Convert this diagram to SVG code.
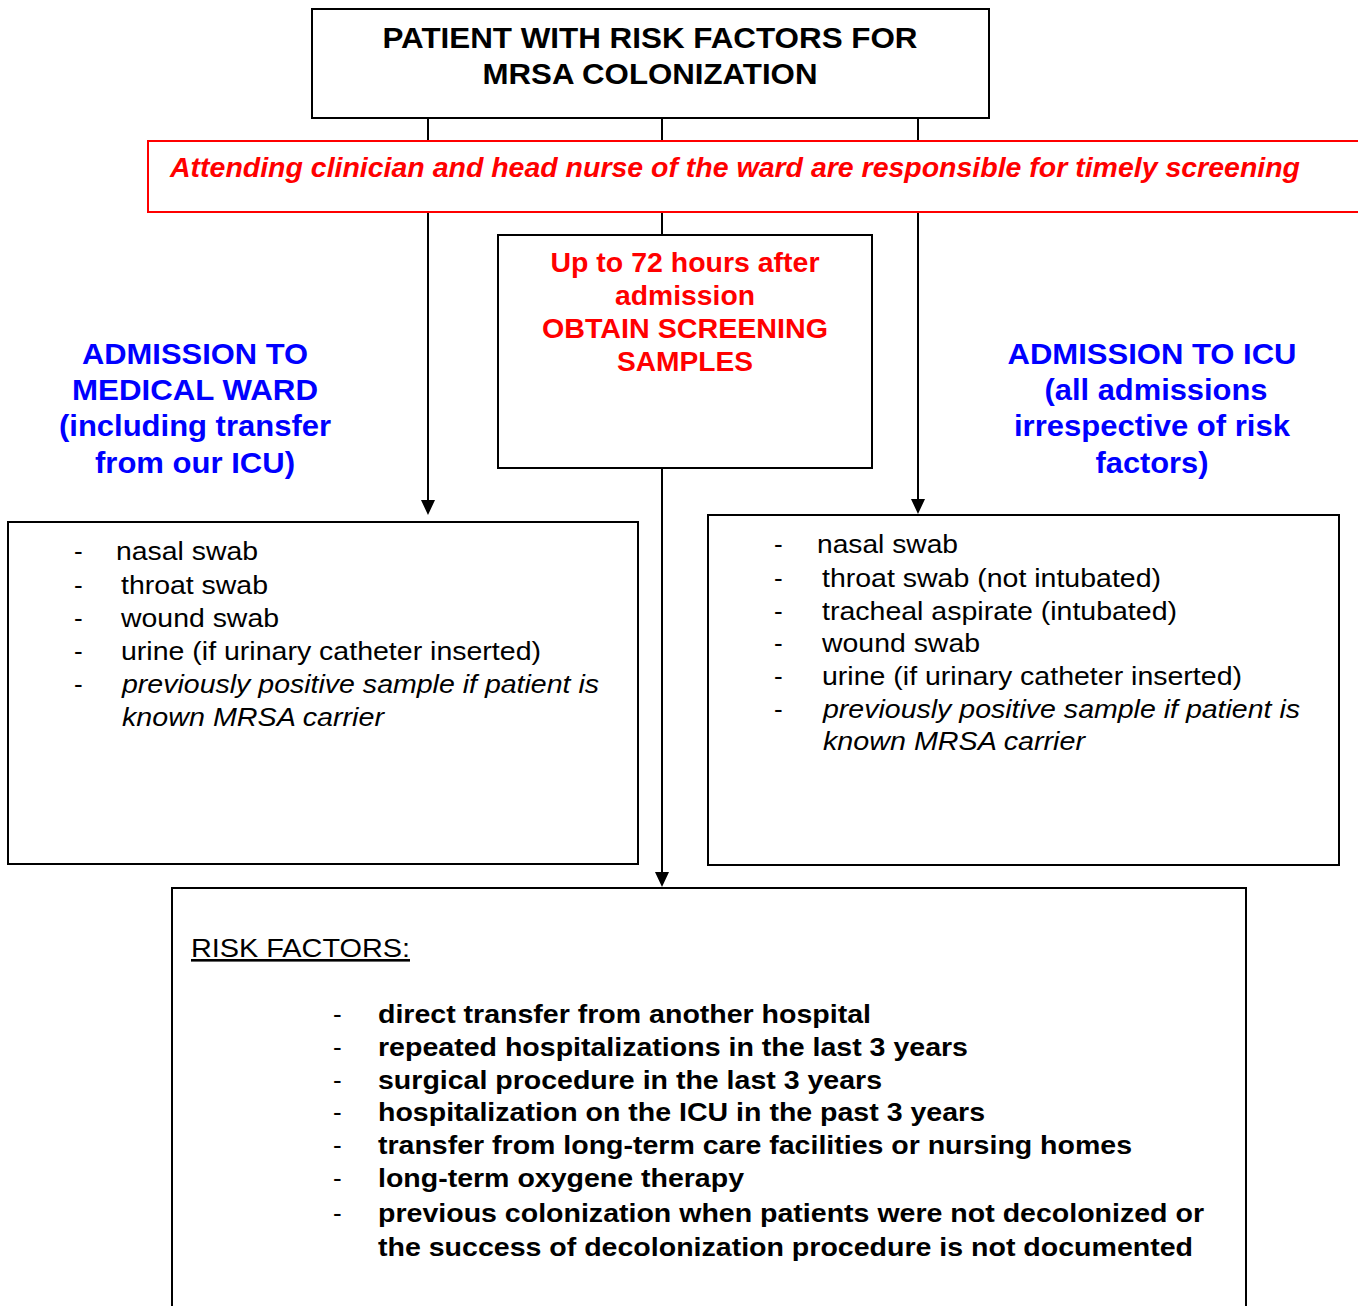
<svg xmlns="http://www.w3.org/2000/svg" width="1358" height="1306" viewBox="0 0 1358 1306">
<style>
text{font-family:"Liberation Sans",Arial,sans-serif}
.box{fill:#fff;stroke:#000;stroke-width:2}
.ln{stroke:#000;stroke-width:2;fill:none}
.title{font-size:29px;font-weight:bold;fill:#000;text-anchor:middle}
.red{font-size:27px;font-weight:bold;fill:#ff0000;text-anchor:middle}
.blue{font-size:30px;font-weight:bold;fill:#0000ff;text-anchor:middle}
.li{font-size:26px;fill:#000}
.it{font-style:italic}
.rf{font-size:26px;font-weight:bold;fill:#000}
</style>
<g id="connectors">
<line class="ln" x1="428" y1="118" x2="428" y2="141"/>
<line class="ln" x1="662" y1="118" x2="662" y2="141"/>
<line class="ln" x1="918" y1="118" x2="918" y2="141"/>
<line class="ln" x1="662" y1="212" x2="662" y2="235"/>
<line class="ln" x1="428" y1="212" x2="428" y2="502"/>
<path d="M421,500 L435,500 L428,515 z" fill="#000"/>
<line class="ln" x1="918" y1="212" x2="918" y2="501"/>
<path d="M911,499 L925,499 L918,514 z" fill="#000"/>
<line class="ln" x1="662" y1="468" x2="662" y2="874"/>
<path d="M655,872 L669,872 L662,887 z" fill="#000"/>
</g>
<g id="top">
<rect class="box" x="312" y="9" width="677" height="109"/>
<text class="title" x="650" y="48" textLength="535" lengthAdjust="spacingAndGlyphs">PATIENT WITH RISK FACTORS FOR</text>
<text class="title" x="650" y="84" textLength="335" lengthAdjust="spacingAndGlyphs">MRSA COLONIZATION</text>
</g>
<g id="banner">
<rect x="148" y="141" width="1220" height="71" fill="#fff" stroke="#ff0000" stroke-width="2"/>
<text x="170" y="177" font-size="28" font-weight="bold" font-style="italic" fill="#ff0000" textLength="1130" lengthAdjust="spacingAndGlyphs">Attending clinician and head nurse of the ward are responsible for timely screening</text>
</g>
<g id="timing">
<rect class="box" x="498" y="235" width="374" height="233"/>
<text class="red" x="685" y="272" textLength="269" lengthAdjust="spacingAndGlyphs">Up to 72 hours after</text>
<text class="red" x="685" y="305" textLength="140" lengthAdjust="spacingAndGlyphs">admission</text>
<text class="red" x="685" y="338" textLength="286" lengthAdjust="spacingAndGlyphs">OBTAIN SCREENING</text>
<text class="red" x="685" y="371" textLength="136" lengthAdjust="spacingAndGlyphs">SAMPLES</text>
</g>
<g id="ward-label">
<text class="blue" x="195" y="364" textLength="226" lengthAdjust="spacingAndGlyphs">ADMISSION TO</text>
<text class="blue" x="195" y="400" textLength="246" lengthAdjust="spacingAndGlyphs">MEDICAL WARD</text>
<text class="blue" x="195" y="436" textLength="272" lengthAdjust="spacingAndGlyphs">(including transfer</text>
<text class="blue" x="195" y="473" textLength="200" lengthAdjust="spacingAndGlyphs">from our ICU)</text>
</g>
<g id="icu-label">
<text class="blue" x="1152" y="364" textLength="289" lengthAdjust="spacingAndGlyphs">ADMISSION TO ICU</text>
<text class="blue" x="1156" y="400" textLength="223" lengthAdjust="spacingAndGlyphs">(all admissions</text>
<text class="blue" x="1152" y="436" textLength="276" lengthAdjust="spacingAndGlyphs">irrespective of risk</text>
<text class="blue" x="1152" y="473" textLength="113" lengthAdjust="spacingAndGlyphs">factors)</text>
</g>
<g id="ward-samples">
<rect class="box" x="8" y="522" width="630" height="342"/>
<text class="li" x="74" y="560">-</text><text class="li" x="116" y="560" textLength="142" lengthAdjust="spacingAndGlyphs">nasal swab</text>
<text class="li" x="74" y="594">-</text><text class="li" x="121" y="594" textLength="147" lengthAdjust="spacingAndGlyphs">throat swab</text>
<text class="li" x="74" y="627">-</text><text class="li" x="121" y="627" textLength="158" lengthAdjust="spacingAndGlyphs">wound swab</text>
<text class="li" x="74" y="660">-</text><text class="li" x="121" y="660" textLength="420" lengthAdjust="spacingAndGlyphs">urine (if urinary catheter inserted)</text>
<text class="li" x="74" y="693">-</text><text class="li it" x="122" y="693" textLength="477" lengthAdjust="spacingAndGlyphs">previously positive sample if patient is</text>
<text class="li it" x="122" y="726" textLength="262" lengthAdjust="spacingAndGlyphs">known MRSA carrier</text>
</g>
<g id="icu-samples">
<rect class="box" x="708" y="515" width="631" height="350"/>
<text class="li" x="774" y="553">-</text><text class="li" x="817" y="553" textLength="141" lengthAdjust="spacingAndGlyphs">nasal swab</text>
<text class="li" x="774" y="587">-</text><text class="li" x="822" y="587" textLength="339" lengthAdjust="spacingAndGlyphs">throat swab (not intubated)</text>
<text class="li" x="774" y="620">-</text><text class="li" x="822" y="620" textLength="355" lengthAdjust="spacingAndGlyphs">tracheal aspirate (intubated)</text>
<text class="li" x="774" y="652">-</text><text class="li" x="822" y="652" textLength="158" lengthAdjust="spacingAndGlyphs">wound swab</text>
<text class="li" x="774" y="685">-</text><text class="li" x="822" y="685" textLength="420" lengthAdjust="spacingAndGlyphs">urine (if urinary catheter inserted)</text>
<text class="li" x="774" y="718">-</text><text class="li it" x="823" y="718" textLength="477" lengthAdjust="spacingAndGlyphs">previously positive sample if patient is</text>
<text class="li it" x="823" y="750" textLength="262" lengthAdjust="spacingAndGlyphs">known MRSA carrier</text>
</g>
<g id="risk-factors">
<rect class="box" x="172" y="888" width="1074" height="430"/>
<text class="li" x="191" y="957" text-decoration="underline" textLength="219" lengthAdjust="spacingAndGlyphs">RISK FACTORS:</text>
<text class="li" x="333" y="1023">-</text><text class="rf" x="378" y="1023" textLength="493" lengthAdjust="spacingAndGlyphs">direct transfer from another hospital</text>
<text class="li" x="333" y="1056">-</text><text class="rf" x="378" y="1056" textLength="590" lengthAdjust="spacingAndGlyphs">repeated hospitalizations in the last 3 years</text>
<text class="li" x="333" y="1089">-</text><text class="rf" x="378" y="1089" textLength="504" lengthAdjust="spacingAndGlyphs">surgical procedure in the last 3 years</text>
<text class="li" x="333" y="1121">-</text><text class="rf" x="378" y="1121" textLength="607" lengthAdjust="spacingAndGlyphs">hospitalization on the ICU in the past 3 years</text>
<text class="li" x="333" y="1154">-</text><text class="rf" x="378" y="1154" textLength="754" lengthAdjust="spacingAndGlyphs">transfer from long-term care facilities or nursing homes</text>
<text class="li" x="333" y="1187">-</text><text class="rf" x="378" y="1187" textLength="366" lengthAdjust="spacingAndGlyphs">long-term oxygene therapy</text>
<text class="li" x="333" y="1222">-</text><text class="rf" x="378" y="1222" textLength="826" lengthAdjust="spacingAndGlyphs">previous colonization when patients were not decolonized or</text>
<text class="rf" x="378" y="1256" textLength="815" lengthAdjust="spacingAndGlyphs">the success of decolonization procedure is not documented</text>
</g>
</svg>
